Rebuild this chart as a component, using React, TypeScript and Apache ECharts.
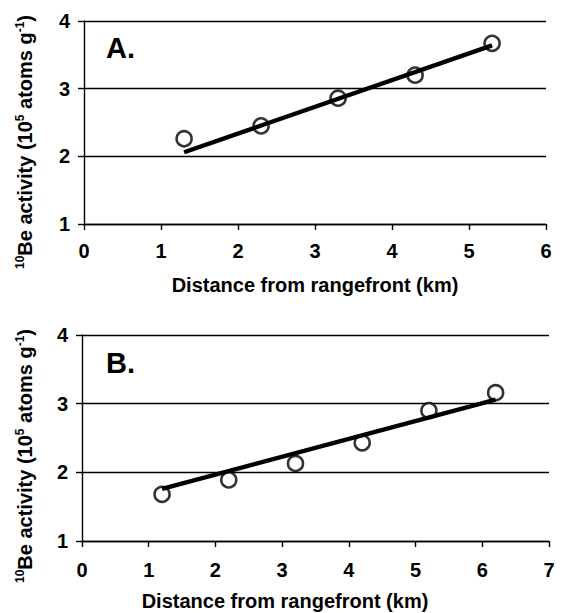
import React, { useEffect, useRef } from "react";
import * as echarts from "echarts";

// Panel A data (distance km, 10Be activity 10^5 atoms/g)
const distA = [1.3, 2.3, 3.3, 4.3, 5.3];
const beA = [2.26, 2.45, 2.86, 3.2, 3.67];
const trendAx = [1.3, 5.3];
const trendAy = [2.06, 3.64];

// Panel B data
const distB = [1.2, 2.2, 3.2, 4.2, 5.2, 6.2];
const beB = [1.68, 1.89, 2.13, 2.43, 2.9, 3.16];
const trendBx = [1.2, 6.2];
const trendBy = [1.76, 3.06];

const xMaxA = 6;
const xMaxB = 7;
const yMin = 1;
const yMax = 4;

const FONT = "'Liberation Sans', Arial, sans-serif";
const xTitle = "Distance from rangefront (km)";
const yTitle = "{sup|10}Be activity (10{sup|5} atoms g{sup|-1})";

export default function App() {
  const ref = useRef<HTMLDivElement>(null);
  useEffect(() => {
    if (!ref.current) return;
    const chart = echarts.init(ref.current, undefined, { renderer: "svg" });
    const labelStyle = { color: "#000", fontFamily: FONT, fontWeight: "bold" as const, fontSize: 20 };
    const mkX = (gridIndex: number, max: number, margin: number) => ({
      type: "value" as const,
      gridIndex,
      min: 0,
      max,
      interval: 1,
      axisLine: { show: true, lineStyle: { color: "#000", width: 1.4 } },
      axisTick: { show: true, inside: false, length: 6, lineStyle: { color: "#000", width: 1.4 } },
      axisLabel: { ...labelStyle, margin },
      splitLine: { show: false },
    });
    const mkY = (gridIndex: number, margin: number) => ({
      type: "value" as const,
      gridIndex,
      min: yMin,
      max: yMax,
      interval: 1,
      axisLine: { show: true, lineStyle: { color: "#000", width: 1.4 } },
      axisTick: { show: true, inside: false, length: 6, lineStyle: { color: "#000", width: 1.4 } },
      axisLabel: { ...labelStyle, margin },
      splitLine: { show: true, lineStyle: { color: "#000", width: 1.3 } },
    });
    const pts = (xs: number[], ys: number[]) => xs.map((x, i) => [x, ys[i]]);
    const yTitleText = (x: number, y: number) => ({
      type: "text" as const,
      x,
      y,
      rotation: Math.PI / 2,
      style: {
        text: yTitle,
        fill: "#000",
        font: `bold 20px ${FONT}`,
        align: "center",
        verticalAlign: "middle",
        rich: {
          sup: { fontSize: 12, fontWeight: "bold", fontFamily: FONT, fill: "#000", padding: [0, 0, 10, 0] },
        },
      },
    });
    chart.setOption({
      animation: false,
      backgroundColor: "#fff",
      grid: [
        { left: 84, top: 21, width: 462, height: 203 },
        { left: 82, top: 335, width: 467, height: 206 },
      ],
      xAxis: [mkX(0, xMaxA, 17), mkX(1, xMaxB, 19)],
      yAxis: [mkY(0, 14), mkY(1, 14)],
      series: [
        {
          type: "scatter",
          xAxisIndex: 0,
          yAxisIndex: 0,
          data: pts(distA, beA),
          symbol: "circle",
          symbolSize: 15,
          itemStyle: { color: "#fff", borderColor: "#000", borderWidth: 2.6 },
          z: 2,
        },
        {
          type: "line",
          xAxisIndex: 0,
          yAxisIndex: 0,
          data: pts(trendAx, trendAy),
          showSymbol: false,
          lineStyle: { color: "#000", width: 4.4 },
          z: 3,
        },
        {
          type: "scatter",
          xAxisIndex: 1,
          yAxisIndex: 1,
          data: pts(distB, beB),
          symbol: "circle",
          symbolSize: 15,
          itemStyle: { color: "#fff", borderColor: "#000", borderWidth: 2.6 },
          z: 2,
        },
        {
          type: "line",
          xAxisIndex: 1,
          yAxisIndex: 1,
          data: pts(trendBx, trendBy),
          showSymbol: false,
          lineStyle: { color: "#000", width: 4.4 },
          z: 3,
        },
      ],
      graphic: [
        {
          type: "text",
          x: 106,
          y: 48,
          style: { text: "A.", fill: "#000", font: `bold 29px ${FONT}`, verticalAlign: "middle" },
        },
        {
          type: "text",
          x: 106,
          y: 363,
          style: { text: "B.", fill: "#000", font: `bold 29px ${FONT}`, verticalAlign: "middle" },
        },
        {
          type: "text",
          x: 315,
          y: 285,
          style: { text: xTitle, fill: "#000", font: `bold 20px ${FONT}`, align: "center", verticalAlign: "middle" },
        },
        {
          type: "text",
          x: 285,
          y: 601,
          style: { text: xTitle, fill: "#000", font: `bold 20px ${FONT}`, align: "center", verticalAlign: "middle" },
        },
        yTitleText(25, 142),
        yTitleText(25, 456),
      ],
    });
    return () => chart.dispose();
  }, []);
  return (
    <div
      ref={ref}
      style={{ position: "absolute", left: 0, top: 0, width: 561, height: 613 }}
    />
  );
}
